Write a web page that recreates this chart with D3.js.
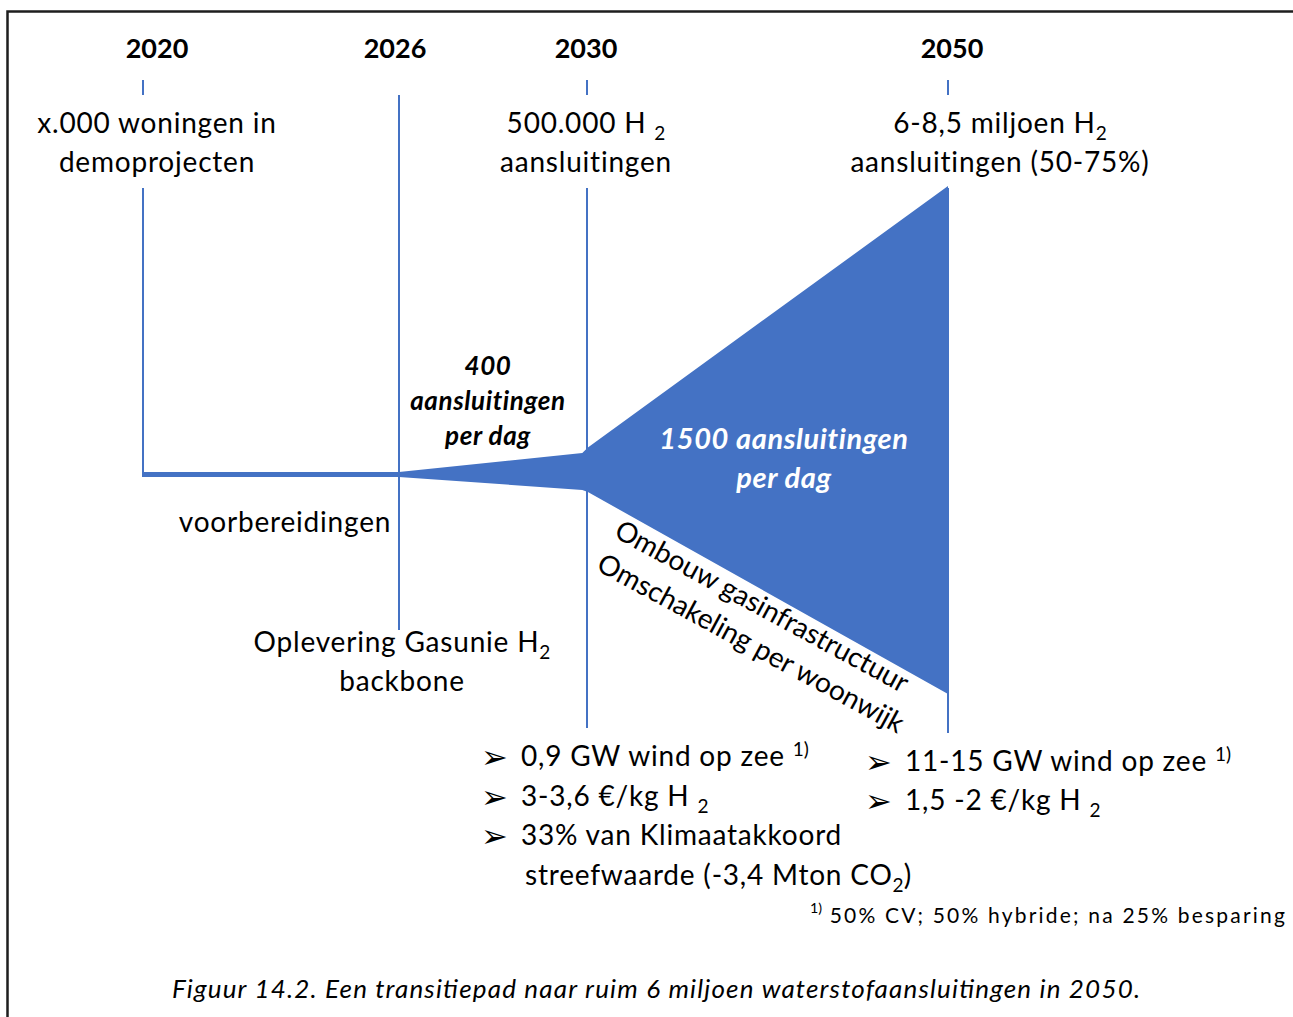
<!DOCTYPE html>
<meta charset="utf-8">
<head>
<title>Transitiepad waterstof</title>
<style>
body { margin: 0; background: #fff; }
svg text { font-family: Lato, 'Liberation Sans', sans-serif; fill: #000; }
.year { font-weight: bold; font-size: 27px; }
.lbl { font-size: 28px; letter-spacing: 0.8px; }
.rate { font-weight: bold; font-style: italic; font-size: 26px; letter-spacing: 0.6px; }
.rate-big { font-weight: bold; font-style: italic; font-size: 29px; letter-spacing: 0.6px; fill: #fff; }
.bullet { font-family: 'DejaVu Sans', sans-serif; font-size: 32px; }
.foot { font-size: 21px; letter-spacing: 2.2px; }
.caption { font-style: italic; font-size: 26px; }
</style>
</head>
<svg width="1293" height="1017"></svg>
<script src="https://d3js.org/d3.v7.min.js"></script>
<script>

const years = [2020, 2026, 2030, 2050];
const yearLabels = ['2020', '2026', '2030', '2050'];

// text under each year; parts: string or {t, sub/sup}
const topLabels = [
    [['x.000 woningen in'], ['demoprojecten']],
    [],
    [['500.000 H ', {t: '2', sub: true}], ['aansluitingen']],
    [['6-8,5 miljoen H', {t: '2', sub: true}], ['aansluitingen (50-75%)']]
];

// funnel outline: offset above (hi) and below (lo) the timeline
const funnelYears = [2020, 2026, 2029.9, 2030.05, 2050];
const funnelHi = [2.5, 2.5, 21.5, 27, 288.5];
const funnelLo = [-2.5, -2.5, -15.5, -17.5, -219.5];

const rateSmall = ['400', 'aansluitingen', 'per dag'];
const rateBig = ['1500 aansluitingen', 'per dag'];
const slopeLines = ['Ombouw gasinfrastructuur', 'Omschakeling per woonwijk'];

const bullets2030 = [
    ['0,9 GW wind op zee ', {t: '1)', sup: true}],
    ['3-3,6 €/kg H ', {t: '2', sub: true}],
    ['33% van Klimaatakkoord']
];
const bullets2030cont = ['streefwaarde (-3,4 Mton CO', {t: '2', sub: true}, ')'];
const bullets2050 = [
    ['11-15 GW wind op zee ', {t: '1)', sup: true}],
    ['1,5 -2 €/kg H ', {t: '2', sub: true}]
];
const footnote = [{t: '1)', sup: true}, ' 50% CV; 50% hybride; na 25% besparing'];
const caption = 'Figuur 14.2. Een transitiepad naar ruim 6 miljoen waterstofaansluitingen in 2050.';

const blue = '#4472C4';

const svg = d3.select('svg');

// time positions are not linear in the figure, so piecewise
const x = d3.scaleLinear()
    .domain(years)
    .range([143, 399, 587, 948]);

const y = d3.scaleLinear()
    .domain([-300, 300])
    .range([774.5, 174.5]);

function addText(g, px, py, parts, cls, anchor) {
    const t = g.append('text')
        .attr('class', cls)
        .attr('x', px)
        .attr('y', py)
        .attr('text-anchor', anchor || 'middle');
    let shift = 0;
    parts.forEach(p => {
        if (typeof p === 'string') {
            t.append('tspan').attr('dy', -shift).text(p);
            shift = 0;
        } else {
            const d = p.sub ? 7 : -10;
            t.append('tspan')
                .attr('dy', d - shift)
                .attr('font-size', '0.68em')
                .attr('letter-spacing', '0px')
                .text(p.t);
            shift = d;
        }
    });
    return t;
}

// frame
svg.append('rect')
    .attr('x', 7.5)
    .attr('y', 11.5)
    .attr('width', 1320)
    .attr('height', 1030)
    .attr('fill', 'none')
    .attr('stroke', '#1e1e1e')
    .attr('stroke-width', 2.5);

// vertical year lines
const segs = [
    [[80, 95], [188, 477]],
    [[95, 630]],
    [[80, 95], [188, 728]],
    [[80, 95], [188, 733]]
];
const lines = svg.append('g').attr('class', 'lines');
years.forEach((yr, i) => {
    segs[i].forEach(s => {
        lines.append('line')
            .attr('x1', x(yr)).attr('x2', x(yr))
            .attr('y1', s[0]).attr('y2', s[1])
            .attr('stroke', blue)
            .attr('stroke-width', 2);
    });
});

// funnel
const funnel = funnelYears.map((yr, i) => ({year: yr, hi: funnelHi[i], lo: funnelLo[i]}));
svg.append('path')
    .datum(funnel)
    .attr('fill', blue)
    .attr('d', d3.area()
        .x(d => x(d.year))
        .y0(d => y(d.lo))
        .y1(d => y(d.hi)));

// year headings
const yearOffset = [14, -4, -1, 4];
svg.append('g').selectAll('text')
    .data(yearLabels)
    .enter()
    .append('text')
    .attr('class', 'year')
    .attr('text-anchor', 'middle')
    .attr('x', (d, i) => x(years[i]) + yearOffset[i])
    .attr('y', 58)
    .text(d => d);

// labels under the years
const labelOffset = [14, 0, -1, 52];
const topGroup = svg.append('g');
topLabels.forEach((lbl, i) => {
    lbl.forEach((parts, j) => {
        addText(topGroup, x(years[i]) + labelOffset[i], 133 + j * 39, parts, 'lbl');
    });
});

// rates
rateSmall.forEach((s, j) => {
    addText(svg, 488, 375 + j * 35, [s], 'rate');
});
rateBig.forEach((s, j) => {
    addText(svg, 784, 449 + j * 39, [s], 'rate-big');
});

// other labels
addText(svg, 285, 532, ['voorbereidingen'], 'lbl');
addText(svg, 402, 652, ['Oplevering Gasunie H', {t: '2', sub: true}], 'lbl');
addText(svg, 402, 691, ['backbone'], 'lbl');

// sloped text along the funnel
const slopeCentres = [[762, 607], [751, 644]];
const slopeLen = [330, 345];
slopeLines.forEach((s, i) => {
    svg.append('text')
        .attr('class', 'lbl')
        .attr('font-size', '25px')
        .attr('text-anchor', 'middle')
        .attr('transform', `translate(${slopeCentres[i][0]},${slopeCentres[i][1]}) rotate(28.5)`)
        .attr('y', 9)
        .attr('textLength', slopeLen[i])
        .attr('lengthAdjust', 'spacing')
        .text(s);
});

// bullet lists
const bl = svg.append('g');
bullets2030.forEach((parts, j) => {
    bl.append('text').attr('class', 'bullet').attr('x', x(2030) - 106).attr('y', 768 + j * 39.5).text('➢');
    addText(bl, x(2030) - 66, 766 + j * 39.5, parts, 'lbl', 'start');
});
addText(bl, x(2030) - 62, 885, bullets2030cont, 'lbl', 'start');
bullets2050.forEach((parts, j) => {
    bl.append('text').attr('class', 'bullet').attr('x', x(2050) - 83).attr('y', 773 + j * 39).text('➢');
    addText(bl, x(2050) - 43, 771 + j * 39, parts, 'lbl', 'start');
});

addText(svg, 810, 923, footnote, 'foot', 'start');

svg.append('text')
    .attr('class', 'caption')
    .attr('x', 172)
    .attr('y', 998)
    .attr('textLength', 968)
    .attr('lengthAdjust', 'spacing')
    .text(caption);

</script>
